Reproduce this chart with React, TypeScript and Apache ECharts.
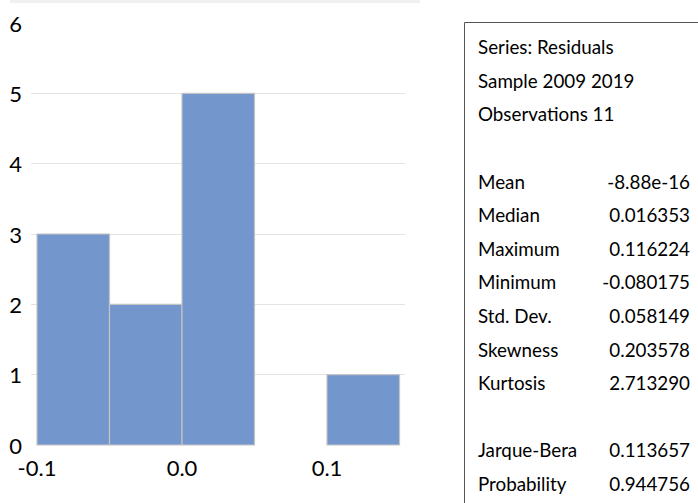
import React, { useEffect, useRef } from "react";
import * as echarts from "echarts";

const binStart = [-0.1, -0.05, 0.0, 0.05, 0.1];
const binEnd = [-0.05, 0.0, 0.05, 0.1, 0.15];
const counts = [3, 2, 5, 0, 1];
const xTickValues = [-0.1, 0.0, 0.1];

const statLabels = [
  "Series: Residuals",
  "Sample 2009 2019",
  "Observations 11",
  "",
  "Mean",
  "Median",
  "Maximum",
  "Minimum",
  "Std. Dev.",
  "Skewness",
  "Kurtosis",
  "",
  "Jarque-Bera",
  "Probability",
];
const statValues = [
  "",
  "",
  "",
  "",
  "-8.88e-16",
  "0.016353",
  "0.116224",
  "-0.080175",
  "0.058149",
  "0.203578",
  "2.713290",
  "",
  "0.113657",
  "0.944756",
];

const FONT = "Lato, 'Noto Sans', sans-serif";

export default function App() {
  const ref = useRef<HTMLDivElement>(null);
  useEffect(() => {
    document.body.style.margin = "0";
    const chart = echarts.init(ref.current!, null, { renderer: "svg" });
    const data = binStart.map((s, i) => [s, binEnd[i], counts[i]]);
    const rowTop = 46.7;
    const rowStep = 33.6;
    const texts: any[] = [];
    statLabels.forEach((t, i) => {
      if (t)
        texts.push({
          type: "text",
          x: 478,
          y: rowTop + rowStep * i,
          style: { text: t, fill: "#000", font: `18.8px ${FONT}`, verticalAlign: "middle", align: "left" },
        });
      const v = statValues[i];
      if (v)
        texts.push({
          type: "text",
          x: 690,
          y: rowTop + rowStep * i,
          style: { text: v, fill: "#000", font: `18.8px ${FONT}`, verticalAlign: "middle", align: "right" },
        });
    });
    chart.setOption({
      animation: false,
      backgroundColor: "#fff",
      grid: { left: 31, right: 293, top: 23, bottom: 58, containLabel: false },
      xAxis: {
        type: "value",
        min: -0.10414,
        max: 0.15379,
        axisLine: { show: false },
        axisTick: { show: false },
        splitLine: { show: false },
        axisLabel: {
          customValues: xTickValues,
          formatter: (v: number) => v.toFixed(1),
          fontSize: 22,
          fontFamily: FONT,
          color: "#000",
          margin: 11,
        },
      },
      yAxis: {
        type: "value",
        min: 0,
        max: 6,
        interval: 1,
        axisLine: { show: false },
        axisTick: { show: false },
        splitLine: {
          show: true,
          showMinLine: false,
          showMaxLine: false,
          lineStyle: { color: "#e3e3e3", width: 1 },
        },
        axisLabel: { fontSize: 22, fontFamily: FONT, color: "#000", margin: 9 },
      },
      series: [
        {
          type: "custom",
          data,
          encode: { x: [0, 1], y: 2 },
          renderItem: (params: any, api: any) => {
            const c = api.value(2);
            if (!c) return null;
            const p0 = api.coord([api.value(0), c]);
            const p1 = api.coord([api.value(1), 0]);
            return {
              type: "rect",
              shape: { x: p0[0], y: p0[1], width: p1[0] - p0[0], height: p1[1] - p0[1] },
              style: { fill: "#7396cd", stroke: "#c4c4c4", lineWidth: 1.2 },
            };
          },
        },
      ],
      graphic: [
        { type: "rect", shape: { x: 10, y: 0, width: 410, height: 3 }, style: { fill: "#f0f0f0" } },
        {
          type: "rect",
          shape: { x: 464.5, y: 22.5, width: 300, height: 600 },
          style: { fill: "none", stroke: "#555", lineWidth: 1 },
        },
        ...texts,
      ],
    });
    return () => chart.dispose();
  }, []);
  return <div ref={ref} style={{ width: 698, height: 503 }} />;
}
